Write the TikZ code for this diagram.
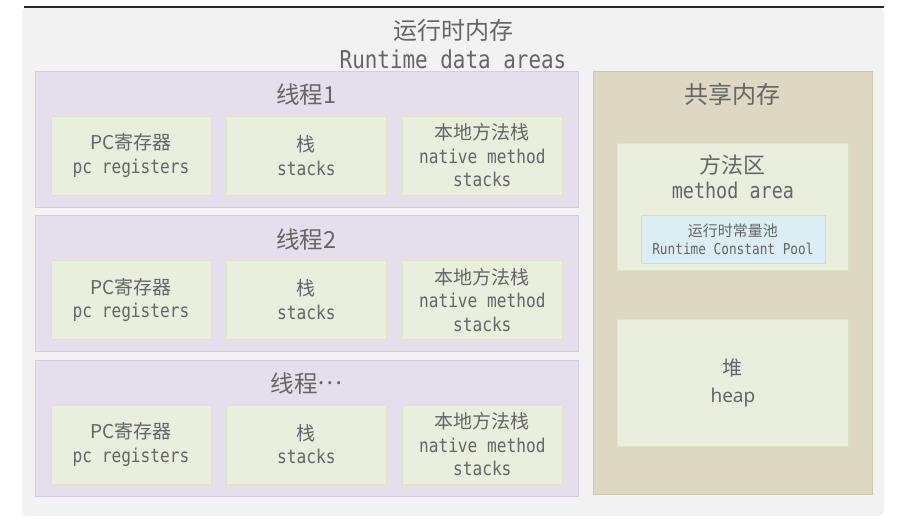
\documentclass[tikz,border=0pt]{standalone}
\usepackage{fontspec}
\setmainfont{DejaVu Sans Mono}[FakeStretch=0.85]
\newfontfamily\mono[FakeStretch=0.85]{DejaVu Sans Mono}
\newfontfamily\cjk{Noto Sans CJK SC}
\newfontfamily\plain{Noto Sans}
\usepackage{tikz}
\usetikzlibrary{positioning}
\usepackage{xcolor}

\definecolor{panelgray}{HTML}{F2F2F2}
\definecolor{threadfill}{HTML}{E5DEEC}
\definecolor{threadline}{HTML}{D7CCE4}
\definecolor{cellfill}{HTML}{E9EEDD}
\definecolor{cellline}{HTML}{DBE6C4}
\definecolor{sharedfill}{HTML}{DDD8C2}
\definecolor{sharedline}{HTML}{D0CAAA}
\definecolor{poolfill}{HTML}{DBEEF4}
\definecolor{poolline}{HTML}{BEE1EC}
\definecolor{labelgray}{HTML}{666666}

\begin{document}
\begin{tikzpicture}[
    x=1pt, y=-1pt,
    panel/.style={rectangle, fill=panelgray, rounded corners=6pt, minimum width=862pt, minimum height=509pt, inner sep=0pt},
    thread/.style={rectangle, draw=threadline, fill=threadfill, minimum width=543pt, minimum height=136pt, inner sep=0pt},
    cell/.style={rectangle, draw=cellline, fill=cellfill, minimum width=160pt, minimum height=79pt, inner sep=0pt, align=center, text=labelgray, font=\mono\fontsize{19}{23.5}\selectfont},
    shared/.style={rectangle, draw=sharedline, fill=sharedfill, minimum width=279pt, minimum height=423pt, inner sep=0pt},
    area/.style={rectangle, draw=cellline, fill=cellfill, minimum width=231pt, minimum height=127pt, inner sep=0pt, align=center, text=labelgray},
    pool/.style={rectangle, draw=poolline, fill=poolfill, minimum width=184pt, minimum height=48pt, inner sep=0pt, align=center, text=labelgray, font=\mono\fontsize{15}{18}\selectfont},
    heading/.style={text=labelgray, inner sep=0pt, align=center, font=\cjk\fontsize{23.5}{28}\selectfont}
]
\useasboundingbox (0,0) rectangle (902,524);

% Runtime data areas
\node (runtime) [panel] at (453,261.5) {};
\draw [line width=2pt, black!85] ([xshift=2pt]runtime.north west) -- (runtime.north east);
\node (title) [heading, font=\fontsize{24}{29}\selectfont] at ([yshift=-37.5pt]runtime.north) {{\cjk 运行时内存}\\{\mono\fontsize{24.6}{29}\selectfont Runtime data areas}};

% Thread 1
\node (thread1) [thread] at (306.5,139) {};
\node (thread1title) [heading] at ([yshift=-24pt]thread1.north) {线程1};
\node (pc1) [cell, anchor=north west] at ([xshift=16pt,yshift=-45pt]thread1.north west) {{\cjk PC寄存器}\\pc registers};
\node (stack1) [cell, right=15pt of pc1] {{\cjk 栈}\\stacks};
\node (native1) [cell, right=15.5pt of stack1] {{\cjk 本地方法栈}\\native method\\stacks};

% Thread 2
\node (thread2) [thread, below=8pt of thread1] {};
\node (thread2title) [heading] at ([yshift=-24pt]thread2.north) {线程2};
\node (pc2) [cell, anchor=north west] at ([xshift=16pt,yshift=-45pt]thread2.north west) {{\cjk PC寄存器}\\pc registers};
\node (stack2) [cell, right=15pt of pc2] {{\cjk 栈}\\stacks};
\node (native2) [cell, right=15.5pt of stack2] {{\cjk 本地方法栈}\\native method\\stacks};

% Thread ...
\node (thread3) [thread, below=8pt of thread2] {};
\node (thread3title) [heading] at ([yshift=-24pt]thread3.north) {线程\raisebox{0.33em}{…}};
\node (pc3) [cell, anchor=north west] at ([xshift=16pt,yshift=-45pt]thread3.north west) {{\cjk PC寄存器}\\pc registers};
\node (stack3) [cell, right=15pt of pc3] {{\cjk 栈}\\stacks};
\node (native3) [cell, right=15.5pt of stack3] {{\cjk 本地方法栈}\\native method\\stacks};

% Shared memory
\node (shared) [shared, anchor=north west] at ([xshift=15pt]thread1.north east) {};
\node (sharedtitle) [heading, font=\cjk\fontsize{24}{28}\selectfont] at ([yshift=-24pt]shared.north) {共享内存};

% Method area
\node (method) [area, anchor=north] at ([yshift=-72pt]shared.north) {};
\node (methodtitle) [heading, font=\fontsize{22}{25}\selectfont] at ([yshift=-34.5pt]method.north) {{\cjk 方法区}\\{\mono\fontsize{21.7}{25}\selectfont method area}};
\node (constpool) [pool, anchor=south] at ([yshift=7pt]method.south) {{\cjk 运行时常量池}\\Runtime Constant Pool};

% Heap
\node (heap) [area, below=49pt of method, font=\cjk\fontsize{20}{27}\selectfont] {堆\\{\plain\fontsize{19}{27}\selectfont heap}};

\end{tikzpicture}
\end{document}
